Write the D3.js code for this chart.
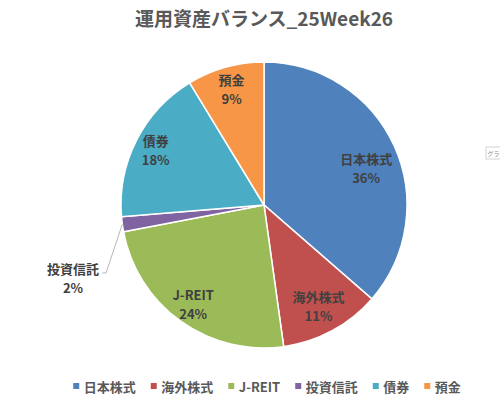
<!DOCTYPE html>
<html><head><meta charset="utf-8">
<script src="https://cdn.jsdelivr.net/npm/d3@7"></script>
<style>body{margin:0;background:#fff}svg{display:block}</style>
</head><body>
<svg id="chart" width="500" height="398"></svg>
<script>
const title = "運用資産バランス_25Week26";
const categories = ["日本株式","海外株式","J-REIT","投資信託","債券","預金"];
const values = [36.4, 11.4, 24.2, 1.7, 17.6, 8.7];
const percentLabels = ["36%","11%","24%","2%","18%","9%"];
const colors = ["#4f81bd","#c0504d","#9bbb59","#8064a2","#4bacc6","#f79646"];

const W = 500, H = 398;
const cx = 264, cy = 205, R = 143;
const FONT = "'Noto Sans CJK JP','Noto Sans',sans-serif";
const svg = d3.select("#chart");

svg.append("text").attr("x", 264).attr("y", 26).attr("text-anchor","middle")
  .attr("font-family", FONT).attr("font-weight","bold").attr("font-size",19)
  .attr("fill","#595959").text(title);

const data = categories.map((c,i)=>({name:c, value:values[i], pct:percentLabels[i], color:colors[i]}));
const pie = d3.pie().value(d=>d.value).sort(null);
const arcs = pie(data);
const arc = d3.arc().innerRadius(0).outerRadius(R);
const g = svg.append("g").attr("transform",`translate(${cx},${cy})`);
g.selectAll("path").data(arcs).join("path")
  .attr("d", arc).attr("fill", d=>d.data.color)
  .attr("stroke","#fff").attr("stroke-width",1.5);

// label placement (Excel best-fit): radius fraction and angle tweak (deg)
const labelFrac = [0.76, 0.8, 0.85, null, 0.85, 0.84];
const labelTurn = [4.5, 0, 0, 0, 0, 0];
arcs.forEach((a,i)=>{
  const mid = (a.startAngle+a.endAngle)/2 + labelTurn[i]*Math.PI/180;
  let x, y;
  if (labelFrac[i] !== null) {
    const r = R*labelFrac[i];
    x = Math.sin(mid)*r; y = -Math.cos(mid)*r;
  } else {
    const px = Math.sin(mid)*R, py = -Math.cos(mid)*R;
    x = -191; y = 73;
    g.append("polyline")
      .attr("points", [[px,py],[-158,68],[-162,68]].map(p=>p.join(",")).join(" "))
      .attr("fill","none").attr("stroke","#a6a6a6").attr("stroke-width",0.8);
  }
  const t = g.append("text").attr("text-anchor","middle")
    .attr("font-family",FONT).attr("font-weight","bold").attr("font-size",13)
    .attr("fill","#404040");
  t.append("tspan").attr("x",x).attr("y",y-4).text(a.data.name);
  t.append("tspan").attr("x",x).attr("y",y+15).text(a.data.pct);
});

// legend
const leg = svg.append("g");
const items = leg.selectAll("g").data(data).join("g");
items.append("rect").attr("width",6).attr("height",6).attr("y",-9).attr("fill",d=>d.color);
items.append("text").attr("x",10.5).attr("y",0)
  .attr("font-family",FONT).attr("font-weight","bold").attr("font-size",13)
  .attr("fill","#595959").text(d=>d.name);
let xpos = 0;
items.each(function(){
  d3.select(this).attr("transform",`translate(${xpos},0)`);
  const w = d3.select(this).select("text").node().getComputedTextLength();
  xpos += 10.5 + w + 15;
});
const total = xpos - 15;
leg.attr("transform",`translate(${267 - total/2},392)`);

// partial tooltip at right edge
const tip = svg.append("g").attr("transform","translate(486,147)");
tip.append("rect").attr("width",60).attr("height",12).attr("fill","#fff")
  .attr("stroke","#c8c8c8").attr("stroke-width",0.8);
tip.append("text").attr("x",1.5).attr("y",9).attr("font-family",FONT)
  .attr("font-size",6).attr("fill","#8c8c8c").text("グラ");
</script>
</body></html>
